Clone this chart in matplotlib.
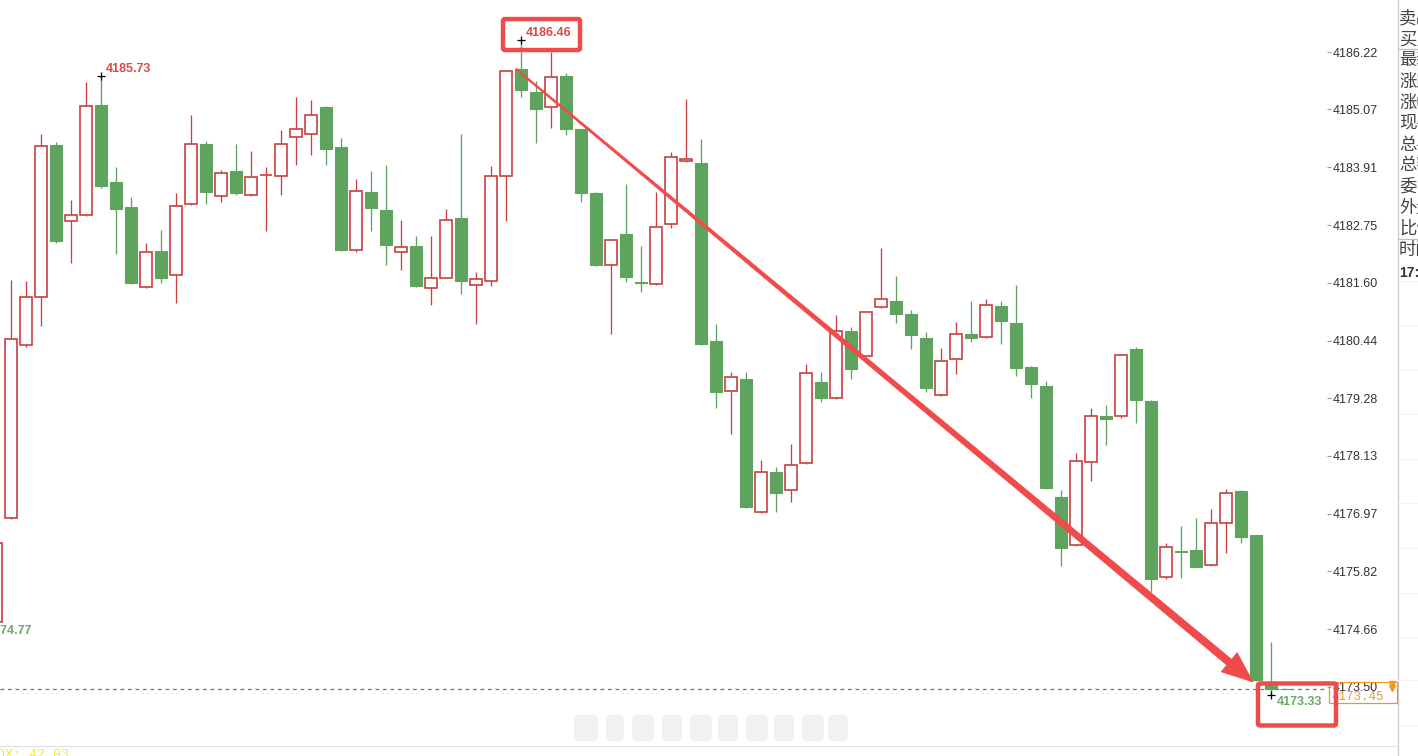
import matplotlib
matplotlib.use("Agg")
import matplotlib.pyplot as plt
import numpy as np
from matplotlib.patches import Rectangle, Polygon, FancyBboxPatch
from matplotlib.lines import Line2D
from matplotlib.transforms import IdentityTransform

plt.rcParams['font.family'] = ['Liberation Sans', 'Noto Sans CJK SC', 'DejaVu Sans']

# ---------------- data ----------------
opens = [4174.80, 4176.88, 4180.35, 4181.32, 4184.35, 4182.83, 4182.96, 4185.15, 4183.62, 4183.11,
         4181.52, 4182.23, 4181.75, 4183.17, 4184.37, 4183.34, 4183.83, 4183.35, 4183.76, 4183.73,
         4184.52, 4184.57, 4185.12, 4184.31, 4182.25, 4183.41, 4183.06, 4182.21, 4182.33, 4181.50,
         4181.70, 4182.90, 4181.56, 4181.64, 4183.73, 4185.88, 4185.41, 4185.12, 4185.74, 4184.67,
         4183.40, 4181.96, 4182.57, 4181.61, 4181.57, 4182.77, 4184.03, 4184.00, 4180.43, 4179.42,
         4179.67, 4177.00, 4177.81, 4177.45, 4177.98, 4179.60, 4179.28, 4180.63, 4180.14, 4181.11,
         4181.23, 4180.97, 4180.50, 4179.34, 4180.08, 4180.58, 4180.51, 4181.13, 4180.79, 4179.92,
         4179.52, 4177.30, 4176.34, 4178.00, 4178.93, 4178.93, 4180.28, 4179.23, 4175.70, 4176.22,
         4176.24, 4175.94, 4176.78, 4177.43, 4176.54, 4173.60, 4173.46]
highs = [4176.60, 4181.65, 4181.63, 4184.57, 4184.41, 4183.25, 4185.62, 4185.73, 4183.91, 4183.31,
         4182.40, 4182.65, 4183.39, 4184.95, 4184.43, 4183.86, 4184.37, 4184.24, 4183.91, 4184.66,
         4185.31, 4185.25, 4185.14, 4184.50, 4183.67, 4183.83, 4183.96, 4182.86, 4182.54, 4182.54,
         4183.08, 4184.57, 4181.81, 4183.93, 4185.85, 4186.46, 4185.63, 4186.23, 4185.79, 4184.67,
         4183.42, 4182.48, 4183.58, 4182.33, 4183.41, 4184.22, 4185.28, 4184.47, 4180.77, 4179.82,
         4179.82, 4178.05, 4177.91, 4178.37, 4179.98, 4179.82, 4180.95, 4180.72, 4181.02, 4182.30,
         4181.74, 4181.05, 4180.61, 4180.30, 4180.82, 4181.24, 4181.27, 4181.23, 4181.55, 4179.93,
         4179.62, 4177.45, 4178.18, 4179.08, 4179.15, 4180.18, 4180.31, 4179.25, 4176.38, 4176.72,
         4176.88, 4177.06, 4177.47, 4177.45, 4176.55, 4174.40, 4173.46]
lows = [4174.80, 4176.87, 4180.31, 4180.74, 4182.40, 4182.00, 4182.94, 4183.50, 4182.17, 4181.57,
        4181.50, 4181.59, 4181.19, 4183.15, 4183.17, 4183.22, 4183.36, 4183.34, 4182.63, 4183.35,
        4183.95, 4184.16, 4183.95, 4182.24, 4182.21, 4182.63, 4181.96, 4181.85, 4181.52, 4181.15,
        4181.69, 4181.38, 4180.77, 4181.54, 4182.83, 4185.32, 4184.39, 4184.69, 4184.56, 4183.22,
        4181.93, 4180.58, 4181.62, 4181.42, 4181.56, 4182.69, 4184.02, 4180.35, 4179.09, 4178.56,
        4177.09, 4176.98, 4177.00, 4177.21, 4177.97, 4179.21, 4179.27, 4179.66, 4180.13, 4181.10,
        4180.80, 4180.28, 4179.40, 4179.33, 4179.77, 4180.42, 4180.50, 4180.38, 4179.73, 4179.28,
        4177.47, 4175.92, 4176.33, 4177.63, 4178.35, 4178.88, 4178.78, 4175.41, 4175.66, 4175.68,
        4175.90, 4175.93, 4176.19, 4176.38, 4173.63, 4173.33, 4173.45]
closes = [4176.38, 4180.47, 4181.31, 4184.33, 4182.44, 4182.95, 4185.14, 4183.53, 4183.08, 4181.59,
          4182.21, 4181.69, 4183.14, 4184.37, 4183.41, 4183.80, 4183.39, 4183.72, 4183.76, 4184.37,
          4184.68, 4184.95, 4184.27, 4182.26, 4183.44, 4183.10, 4182.35, 4182.31, 4181.54, 4181.69,
          4182.85, 4181.64, 4181.67, 4183.73, 4185.84, 4185.45, 4185.08, 4185.71, 4184.67, 4183.40,
          4181.95, 4182.46, 4181.71, 4181.60, 4182.71, 4184.12, 4184.08, 4180.37, 4179.40, 4179.71,
          4177.11, 4177.80, 4177.39, 4177.95, 4179.78, 4179.28, 4180.63, 4179.88, 4181.01, 4181.27,
          4180.97, 4180.55, 4179.48, 4180.03, 4180.58, 4180.50, 4181.15, 4180.84, 4179.90, 4179.57,
          4177.48, 4176.28, 4178.03, 4178.93, 4178.86, 4180.16, 4179.25, 4175.66, 4176.30, 4176.20,
          4175.91, 4176.78, 4177.38, 4176.51, 4173.64, 4173.45, 4173.45]

price_ticks = [4186.22, 4185.07, 4183.91, 4182.75, 4181.60, 4180.44,
               4179.28, 4178.13, 4176.97, 4175.82, 4174.66, 4173.50]
last_price = 4173.45
prev_low_idx, prev_low = -1, 4174.77       # low of the candle just left of the view
panel_labels = ['卖出', '买入', '最新', '涨跌', '涨幅', '现手', '总手', '总额', '委比', '外盘', '比例']
panel_time = ['时间', '17:00']
bottom_text = 'DX: 42.03'

# ---------------- styles ----------------
RED = '#c9403f'
GREEN = '#5ea45e'
ANN_RED = '#d84a45'
ANN_GREEN = '#6ea86a'
MARK_RED = '#f04a4a'
ORANGE = '#ee9a22'
PX = 0.72  # one pixel in points at 100 dpi

W, H = 1418, 756
fig = plt.figure(figsize=(W / 100, H / 100), dpi=100)
fig.patch.set_facecolor('white')
ax = fig.add_axes([0, 11 / H, 1327 / W, 745 / H])
ax.set_facecolor('none')

o = np.array(opens); h = np.array(highs); l = np.array(lows); c = np.array(closes)
x = np.arange(len(o))
up = c >= o
dn = ~up

ax.set_xlim(4 / 15, 1331 / 15)
ax.set_ylim(4172.338, 4187.262)

# wicks
ax.vlines(x[up], l[up], h[up], color=RED, lw=0.95, zorder=2)
ax.vlines(x[dn], l[dn], h[dn], color=GREEN, lw=0.95, zorder=2)
# bodies
bw = 0.80
ax.bar(x[up], c[up] - o[up], bottom=o[up], width=bw, facecolor='white',
       edgecolor=RED, linewidth=1.2, zorder=3)
ax.bar(x[dn], o[dn] - c[dn], bottom=c[dn], width=bw, facecolor=GREEN,
       edgecolor=GREEN, linewidth=0.8, zorder=3)

# last price dashed line
ax.axhline(last_price, color='#3f80a8', lw=0.9, ls=(0, (3, 3)), zorder=1)

# axis styling
for s in ax.spines.values():
    s.set_visible(False)
ax.set_xticks([])
ax.yaxis.tick_right()
ax.set_yticks(price_ticks)
ax.set_yticklabels([f'{v:.2f}' for v in price_ticks])
ax.tick_params(axis='y', length=3, width=0.8, color='#9a9a9a', pad=1,
               labelsize=9, labelcolor='#333333')

# high / low markers and labels
i_hi = int(np.argmax(h))
i_hi2 = 7
i_lo = int(np.argmin(l))
for i, p in [(i_hi, h[i_hi]), (i_hi2, h[i_hi2]), (i_lo, l[i_lo])]:
    ax.plot(i, p, marker='+', color='black', ms=6, mew=0.9, zorder=6)
for i, p in [(i_hi, h[i_hi]), (i_hi2, h[i_hi2])]:
    ax.annotate(f'{p:.2f}', xy=(i, p), xytext=(5 * PX, 7 * PX), textcoords='offset points',
                ha='left', va='center', fontsize=9, fontweight='bold', color=ANN_RED, zorder=7)
ax.annotate(f'{l[i_lo]:.2f}', xy=(i_lo, l[i_lo]), xytext=(6 * PX, -7 * PX), textcoords='offset points',
            ha='left', va='center', fontsize=9, fontweight='bold', color=ANN_GREEN, zorder=7,
            annotation_clip=False)
ax.annotate(f'{prev_low:.2f}', xy=(prev_low_idx, prev_low), xytext=(6 * PX, -7 * PX),
            textcoords='offset points', ha='left', va='center', fontsize=9, fontweight='bold',
            color=ANN_GREEN, zorder=7, annotation_clip=False)

# ---------------- hand-drawn marks (display pixels) ----------------
ident = IdentityTransform()


def disp(i, p):
    return ax.transData.transform((i, p))


# box around the top high label
mx, my = disp(i_hi, h[i_hi])
fig.add_artist(FancyBboxPatch((mx - 18, my - 10), 77, 31, boxstyle='round,pad=0,rounding_size=2',
                              fill=False, ec=MARK_RED, lw=3.2, transform=ident, zorder=10))
# box around the bottom low label
mx, my = disp(i_lo, l[i_lo])
fig.add_artist(FancyBboxPatch((mx - 13, my - 30), 78, 42, boxstyle='round,pad=0,rounding_size=2',
                              fill=False, ec=MARK_RED, lw=3.2, transform=ident, zorder=10))

# tapered arrow from the top to the bottom
S = disp(i_hi, o[i_hi]) + np.array([-5.0, 0.0])
T = disp(84, c[84]) + np.array([-3.0, -2.0])
d = (T - S) / np.linalg.norm(T - S)
n = np.array([-d[1], d[0]])
head_len, head_hw = 31.0, 12.5
w0, w1 = 1.5, 7.5
B = T - d * head_len
pts = [S + n * w0 / 2, B + n * w1 / 2, B + n * head_hw, T,
       B - n * head_hw, B - n * w1 / 2, S - n * w0 / 2]
fig.add_artist(Polygon(pts, closed=True, fc=MARK_RED, ec=MARK_RED, lw=0.5,
                       transform=ident, zorder=9))

# orange last-price tag
ly = disp(0, last_price)[1]
fig.add_artist(Rectangle((1328.5, ly - 14), 68, 21, fill=False, ec=ORANGE, lw=0.9,
                         transform=ident, zorder=8))
fig.text(1331 / W, (ly - 8) / H, f'{last_price:.2f}', family=['Liberation Mono', 'DejaVu Sans Mono'],
         fontsize=9, color=ORANGE, ha='left', va='center', zorder=9)
for dy in (0.0, -4.5):
    fig.add_artist(Line2D([1391.5], [ly + 5.5 + dy], marker='v', ms=4.2, color=ORANGE,
                          mec=ORANGE, transform=ident, zorder=9))

# right info panel
fig.add_artist(Line2D([1397.5, 1397.5], [0, H], color='#c8c8c8', lw=0.9, transform=ident))
for yy in (49, 239):
    fig.add_artist(Line2D([1397.5, W], [H - yy, H - yy], color='#bdbdbd', lw=0.9, transform=ident))
for yy in (281, 325, 370, 414, 459, 503, 548, 593, 637, 680, 725):
    fig.add_artist(Line2D([1398, W], [H - yy, H - yy], color='#f3f3f3', lw=0.8, transform=ident))
for k, lab in enumerate(panel_labels):
    fig.text(1399 / W, 1 - (18 + 21.1 * k) / H, lab, family=['Noto Sans CJK SC'],
             fontsize=12.5, color='#444444', ha='left', va='center')
fig.text(1399 / W, 1 - 250 / H, panel_time[0], family=['Noto Sans CJK SC'],
         fontsize=12.5, color='#444444', ha='left', va='center')
fig.text(1399 / W, 1 - 273 / H, panel_time[1], fontsize=10, fontweight='bold',
         color='#333333', ha='left', va='center')

# bottom strip
fig.add_artist(Line2D([0, 1397], [H - 745.5, H - 745.5], color='#e2e2e2', lw=0.9, transform=ident))
fig.text(-3 / W, 1 - 755 / H, bottom_text, family=['Liberation Mono', 'DejaVu Sans Mono'],
         fontsize=9.5, color='#f0ea48', ha='left', va='center')

# faint blurred watermark
for xx, ww in ((574, 24), (606, 18), (632, 22), (662, 20), (690, 22), (718, 20),
               (746, 22), (774, 20), (802, 22), (828, 20)):
    fig.add_artist(FancyBboxPatch((xx, H - 741), ww, 26, boxstyle='round,pad=0,rounding_size=5',
                                  fc='#eeeeee', ec='none', alpha=0.8, transform=ident, zorder=0))

fig.savefig('out.png', dpi=100, facecolor='white')
